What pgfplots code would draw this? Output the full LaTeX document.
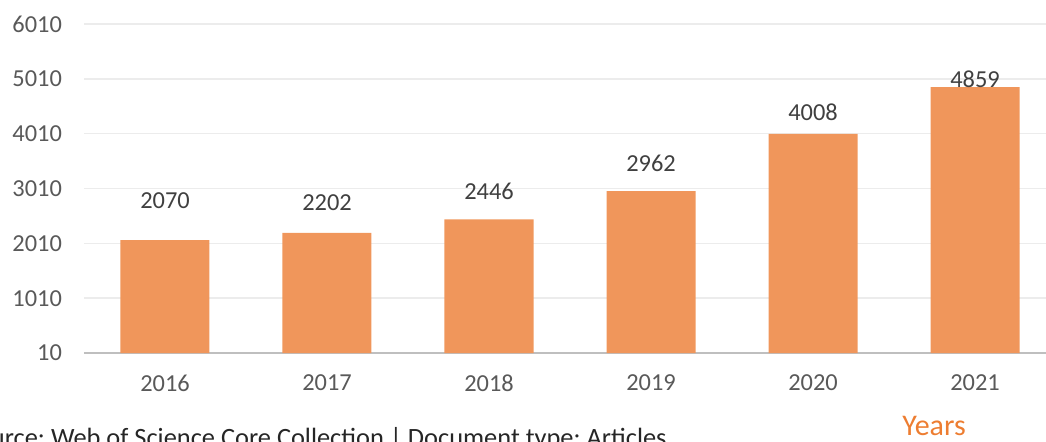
\documentclass[border=0pt]{standalone}
\usepackage{pgfplots}
\pgfplotsset{compat=1.18}
\usepackage{fontspec}
\setmainfont{Carlito}
\frenchspacing
\definecolor{barorange}{RGB}{240,150,91}
\definecolor{yearsorange}{RGB}{237,125,49}
\definecolor{ticktext}{RGB}{89,89,89}
\definecolor{labeltext}{RGB}{64,64,64}
\definecolor{gridgray}{RGB}{236,236,236}
\definecolor{basegray}{RGB}{191,191,191}

\begin{document}
\begin{tikzpicture}
\begin{axis}[
  at={(42pt,44pt)}, anchor=south west,
  scale only axis, width=486pt, height=164.5pt,
  xmin=-0.5, xmax=5.5, ymin=10, ymax=6010,
  ybar, bar width=44.5pt,
  axis lines*=left,
  y axis line style={draw=none},
  x axis line style={basegray, line width=1pt},
  ytick={10,1010,2010,3010,4010,5010,6010},
  ymajorgrids, grid style={gridgray, line width=0.8pt},
  xtick={0,...,5}, xticklabels={2016,2017,2018,2019,2020,2021},
  major tick length=0pt,
  /pgf/number format/assume math mode=true,
  /pgf/number format/1000 sep={},
  tick label style={font=\fontsize{12.2}{14}\selectfont, text=ticktext},
  yticklabel style={xshift=-7.5pt},
  xticklabel style={yshift=-7.5pt},
  clip=false,
]
\addplot[fill=barorange, draw=none] coordinates {(0,2070) (1,2202) (2,2446) (3,2962) (4,4008) (5,4859)};
\begin{scope}[every node/.style={font=\fontsize{12.2}{14}\selectfont, text=labeltext}]
\node at (axis cs:0,2784) {2070};
\node at (axis cs:1,2747) {2202};
\node at (axis cs:2,2966) {2446};
\node at (axis cs:3,3477) {2962};
\node at (axis cs:4,4408) {4008};
\node at (axis cs:5,5010) {4859};
\end{scope}
\end{axis}
\node[anchor=base, text=yearsorange, font=\fontsize{15}{18}\selectfont] at (467pt,2.6pt) {Years};
\node[anchor=base east, inner sep=0pt, text=black!85, font=\fontsize{13.2}{15}\selectfont] at (333.5pt,-2.5pt) {Source: Web of Science Core Collection | Document type: Articles};
\pgfresetboundingbox
\path[use as bounding box] (0,0) rectangle (523pt,220.5pt);
\end{tikzpicture}
\end{document}
